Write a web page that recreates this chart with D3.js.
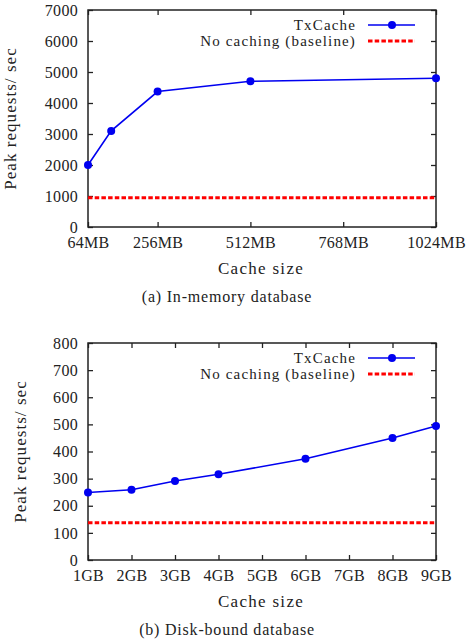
<!DOCTYPE html>
<html>
<head>
<meta charset="utf-8">
<script src="https://cdn.jsdelivr.net/npm/d3@7"></script>
<style>
body { margin: 0; background: #fff; }
</style>
</head>
<body>
<div id="chart"></div>
<script>
// (a) in-memory database
let memSizes = [64, 128, 256, 512, 1024]
let memTxCache = [2000, 3100, 4370, 4700, 4800]
let memBaseline = 940
let memXTicks = [64, 256, 512, 768, 1024]
let memXLabels = ['64MB', '256MB', '512MB', '768MB', '1024MB']
let memYTicks = [0, 1000, 2000, 3000, 4000, 5000, 6000, 7000]

// (b) disk-bound database
let diskSizes = [1, 2, 3, 4, 6, 8, 9]
let diskTxCache = [249, 259, 291, 316, 373, 450, 494]
let diskBaseline = 137
let diskXTicks = [1, 2, 3, 4, 5, 6, 7, 8, 9]
let diskXLabels = ['1GB', '2GB', '3GB', '4GB', '5GB', '6GB', '7GB', '8GB', '9GB']
let diskYTicks = [0, 100, 200, 300, 400, 500, 600, 700, 800]

let seriesNames = ['TxCache', 'No caching (baseline)']

let width = 468
let height = 644
let serif = '"Liberation Serif"'
let blue = '#0000f0'
let red = '#ff0000'

const svg = d3.select('#chart')
	.append('svg')
	.attr('width', width)
	.attr('height', height)

function label(g, size, spacing){
	return g.append('text')
		.style('font-family', serif)
		.style('font-size', size + 'px')
		.style('letter-spacing', spacing + 'px')
		.attr('fill', '#222')
}

function drawPanel(opt){
	let left = 88, right = 436
	let top = opt.top, bottom = opt.top + 217

	let x = d3.scaleLinear().domain(opt.xDomain).range([left, right])
	let y = d3.scaleLinear().domain(opt.yDomain).range([bottom, top])

	let g = svg.append('g')

	// bottom axis with labels, ticks pointing in
	g.append('g')
		.attr('transform', `translate(0,${bottom})`)
		.call(d3.axisBottom(x).tickValues(opt.xTicks).tickSize(-5).tickPadding(10)
			.tickFormat((d, i) => opt.xLabels[i]))
		.call(a => a.select('.domain').remove())
	// top mirror ticks
	g.append('g')
		.attr('transform', `translate(0,${top})`)
		.call(d3.axisTop(x).tickValues(opt.xTicks).tickSize(-5).tickFormat(''))
		.call(a => a.select('.domain').remove())
	// left axis
	g.append('g')
		.attr('transform', `translate(${left},0)`)
		.call(d3.axisLeft(y).tickValues(opt.yTicks).tickSize(-5).tickPadding(10)
			.tickFormat(d3.format('d')))
		.call(a => a.select('.domain').remove())
	// right mirror ticks
	g.append('g')
		.attr('transform', `translate(${right},0)`)
		.call(d3.axisRight(y).tickValues(opt.yTicks).tickSize(-5).tickFormat(''))
		.call(a => a.select('.domain').remove())

	g.selectAll('.tick line').attr('stroke', '#222').attr('stroke-width', 1.3)
	g.selectAll('.tick text')
		.style('font-family', serif)
		.style('font-size', '16px')
		.style('letter-spacing', '0.3px')
		.attr('fill', '#222')

	g.append('rect')
		.attr('x', left).attr('y', top)
		.attr('width', right - left).attr('height', bottom - top)
		.attr('fill', 'none')
		.attr('stroke', '#222')
		.attr('stroke-width', 1.5)

	// baseline
	g.append('line')
		.attr('x1', x(opt.xDomain[0])).attr('x2', x(opt.xDomain[1]))
		.attr('y1', y(opt.baseline)).attr('y2', y(opt.baseline))
		.attr('stroke', red)
		.attr('stroke-width', 3)
		.attr('stroke-dasharray', '4.5,2.2')

	let pts = opt.sizes.map((s, i) => [s, opt.values[i]])
	g.append('path')
		.datum(pts)
		.attr('d', d3.line().x(d => x(d[0])).y(d => y(d[1])))
		.attr('fill', 'none')
		.attr('stroke', blue)
		.attr('stroke-width', 1.6)
	g.selectAll('.dot')
		.data(pts)
		.enter()
		.append('circle')
		.attr('cx', d => x(d[0]))
		.attr('cy', d => y(d[1]))
		.attr('r', 4)
		.attr('fill', blue)

	// legend
	let ly = top + 15
	label(g, 15, 1.15)
		.attr('x', 356).attr('y', ly + 5)
		.attr('text-anchor', 'end')
		.text(seriesNames[0])
	g.append('line')
		.attr('x1', 368).attr('x2', 415).attr('y1', ly).attr('y2', ly)
		.attr('stroke', blue).attr('stroke-width', 1.6)
	g.append('circle')
		.attr('cx', 392).attr('cy', ly).attr('r', 4).attr('fill', blue)
	label(g, 15, 1.15)
		.attr('x', 356).attr('y', ly + 21)
		.attr('text-anchor', 'end')
		.text(seriesNames[1])
	g.append('line')
		.attr('x1', 368).attr('x2', 415).attr('y1', ly + 16).attr('y2', ly + 16)
		.attr('stroke', red).attr('stroke-width', 3)
		.attr('stroke-dasharray', '4.5,2.2')

	// axis titles
	label(g, 17, 1.3)
		.attr('x', 261).attr('y', bottom + 47)
		.attr('text-anchor', 'middle')
		.text('Cache size')
	label(g, 17, 1.05)
		.attr('transform', `translate(${opt.yLabelX},${(top + bottom) / 2}) rotate(-90)`)
		.attr('text-anchor', 'middle')
		.text('Peak requests/ sec')
	label(g, 16, 0.8)
		.attr('x', 227).attr('y', bottom + 75)
		.attr('text-anchor', 'middle')
		.text(opt.caption)
}

drawPanel({
	top: 10, xDomain: [64, 1024], yDomain: [0, 7000],
	xTicks: memXTicks, xLabels: memXLabels, yTicks: memYTicks,
	sizes: memSizes, values: memTxCache, baseline: memBaseline,
	yLabelX: 16, caption: '(a) In-memory database'
})

drawPanel({
	top: 343, xDomain: [1, 9], yDomain: [0, 800],
	xTicks: diskXTicks, xLabels: diskXLabels, yTicks: diskYTicks,
	sizes: diskSizes, values: diskTxCache, baseline: diskBaseline,
	yLabelX: 26, caption: '(b) Disk-bound database'
})
</script>
</body>
</html>
